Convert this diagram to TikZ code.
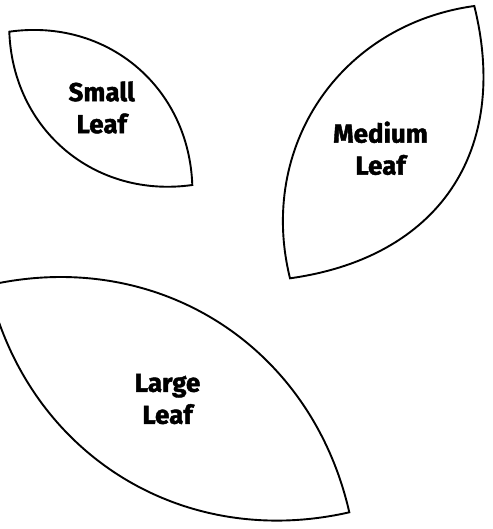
\documentclass[tikz,border=0pt]{standalone}
\usepackage{fontspec}
\newfontfamily\leaffont{Fira Sans}[BoldFeatures={FakeBold=1.6}]
\tikzset{
  leafline/.style={draw=black, line width=1.9pt, line join=miter, fill=white},
  leaflabel/.style={align=center, font=\leaffont\bfseries\fontsize{26}{32}\selectfont, inner sep=0pt}
}
\begin{document}
\begin{tikzpicture}[x=1pt,y=1pt]
\useasboundingbox (0,0) rectangle (492,-529);
\clip (0,0) rectangle (492,-529);
\fill[white] (0,0) rectangle (492,-529);
% small leaf
\coordinate (sA) at (9.3,-31.7);
\coordinate (sB) at (192.3,-185);
\draw[leafline] (sA) to[out=8.05, in=92.05, looseness=1.057] (sB)
  to[out=188.05, in=-87.95, looseness=1.057] (sA) -- cycle;
% medium leaf
\coordinate (mB) at (290,-278.3);
\coordinate (mA) at (474.3,-6);
\draw[leafline] (mB) to[out=103.91, in=187.91, looseness=1.053] (mA)
  to[out=283.91, in=7.91, looseness=1.164] (mB) -- cycle;
% large leaf
\coordinate (lA) at (-11.7,-285.3);
\coordinate (lB) at (349.3,-512.3);
\draw[leafline] (lA) to[out=12.84, in=102.84, looseness=1.033] (lB)
  to[out=192.84, in=-77.16, looseness=1.033] (lA) -- cycle;
% labels
\node[leaflabel] (small) at (101.7,-107.5) {Small\\Leaf};
\node[leaflabel] (medium) at (380.5,-148.3) {Medium\\Leaf};
\node[leaflabel] (large) at (167.5,-399) {Large\\Leaf};
\end{tikzpicture}
\end{document}
